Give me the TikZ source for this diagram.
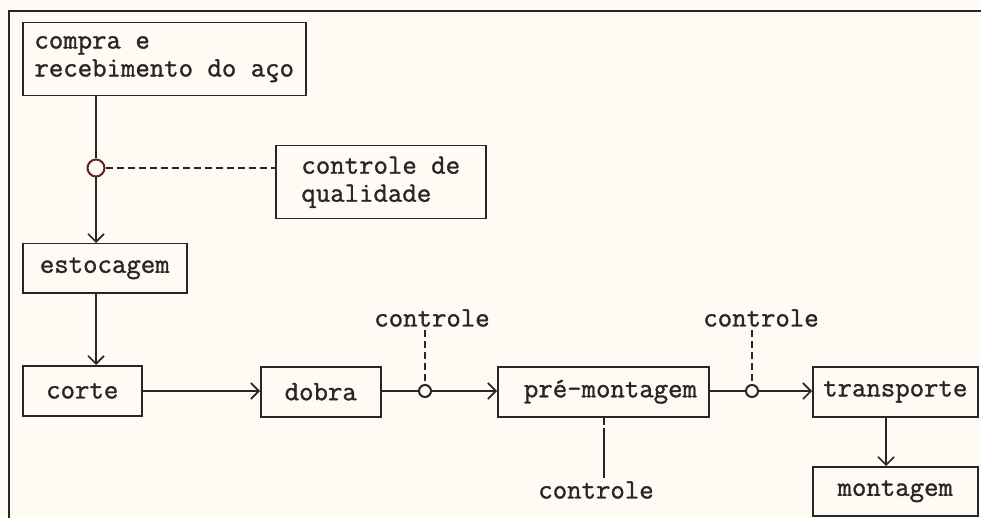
\documentclass[tikz,border=0pt]{standalone}
\usepackage{fontspec}
\setmonofont{Latin Modern Mono}[FakeBold=1.2]
\usetikzlibrary{arrows.meta}
\definecolor{paper}{HTML}{FDFBF4}
\definecolor{ink}{HTML}{2A2623}
\definecolor{ring}{HTML}{6E1E1E}
\begin{document}
\begin{tikzpicture}[x=1pt,y=-1pt,
  txt/.style={font=\ttfamily\fontsize{28}{28}\selectfont,text=ink},
  box/.style={txt,draw=ink,line width=1.5pt,inner sep=0pt,anchor=north west,align=left},
  flow/.style={draw=ink,line width=1.5pt},
  arr/.style={flow,-{Straight Barb[length=8pt,width=16pt,line width=1.6pt]}},
  dashln/.style={draw=ink,line width=1.2pt,dash pattern=on 7pt off 4pt},
  ringbig/.style={circle,draw=ring,line width=2pt,fill=paper,minimum size=17pt,inner sep=0pt},
  ringsmall/.style={circle,draw=ink,line width=2pt,minimum size=12pt,inner sep=0pt}]
\fill[paper] (0,0) rectangle (981,518);
\useasboundingbox (0,0) rectangle (981,518);
\draw[ink,line width=2pt] (9,518) -- (9,11) -- (981,11);

% boxes
\node[box,minimum width=283pt,minimum height=73pt] (compra) at (22,22) {compra e\\recebimento do aço};
\node[box,minimum width=210pt,minimum height=73pt] (qual) at (275,145) {controle de\\qualidade};
\node[box,minimum width=164pt,minimum height=49pt] (estoc) at (22,243) {estocagem};
\node[box,minimum width=119pt,minimum height=50pt] (corte) at (22,365) {corte};
\node[box,minimum width=120pt,minimum height=50pt] (dobra) at (260,366) {dobra};
\node[box,minimum width=211pt,minimum height=50pt] (prem) at (497,366) {~pré-montagem};
\node[box,minimum width=165pt,minimum height=50pt] (transp) at (812,366) {transporte};
\node[box,minimum width=165pt,minimum height=49pt] (mont) at (812,466) {montagem};

% labels
\node[txt] (c1) at (432,318) {controle};
\node[txt] (c2) at (761,318) {controle};
\node[txt] (c3) at (596,490) {controle};

% control points
\node[ringbig] (q0) at (96,168) {};
\node[ringsmall] (q1) at (425,391) {};
\node[ringsmall] (q2) at (752,391) {};
\coordinate (pmb) at (604,428);
\coordinate (tm) at (886,440);

% connectors
\draw[flow] (compra.south -| q0) -- (q0.north);
\draw[arr] (q0.south) -- (estoc.north -| q0);
\draw[dashln] (q0.east) -- (qual.west |- q0);
\draw[arr] (estoc.south -| q0) -- (corte.north -| q0);
\draw[arr] (corte.east |- q1) -- (dobra.west |- q1);
\draw[flow] (dobra.east |- q1) -- (q1.west);
\draw[arr] (q1.east) -- (prem.west |- q1);
\draw[flow] (prem.east |- q2) -- (q2.west);
\draw[arr] (q2.east) -- (transp.west |- q2);
\draw[arr] (transp.south -| tm) -- (mont.north -| tm);
\draw[dashln] (c1.south -| q1) -- (q1.north);
\draw[dashln] (c2.south -| q2) -- (q2.north);
\draw[dashln] (prem.south -| pmb) -- (pmb);
\draw[flow] (pmb) -- (c3.north -| pmb);
\end{tikzpicture}
\end{document}
